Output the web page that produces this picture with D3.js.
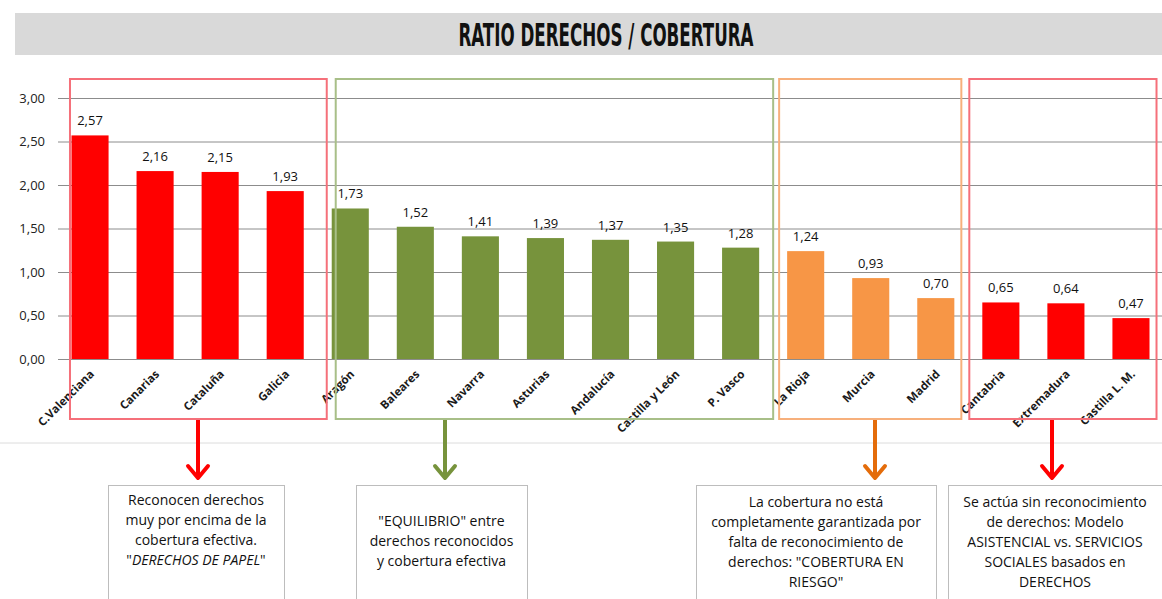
<!DOCTYPE html>
<meta charset="utf-8">
<head>
    <title>Ratio derechos / cobertura</title>
    <style>
        body { margin: 0; background: #fff; }
        svg text { font-family: "Open Sans", "Noto Sans", sans-serif; }
    </style>
</head>
<body>
    <script src="https://cdn.jsdelivr.net/npm/d3@7/dist/d3.min.js"></script>
    <svg id="chart"></svg>
    <script>
        // data
        var categories = ["C.Valenciana", "Canarias", "Cataluña", "Galicia", "Aragón", "Baleares", "Navarra",
            "Asturias", "Andalucía", "Castilla y León", "P. Vasco", "La Rioja", "Murcia", "Madrid",
            "Cantabria", "Extremadura", "Castilla L. M."];
        var values = [2.57, 2.16, 2.15, 1.93, 1.73, 1.52, 1.41, 1.39, 1.37, 1.35, 1.28, 1.24, 0.93, 0.70, 0.65, 0.64, 0.47];
        var yTicks = [0, 0.5, 1, 1.5, 2, 2.5, 3];

        // groups of regions
        var groupFirst = [0, 4, 11, 14];
        var groupLast = [3, 10, 13, 16];
        var barColors = ["#ff0000", "#77933c", "#f79646", "#ff0000"];
        var frameColors = ["#f5707a", "#a8bf88", "#f7b07c", "#f5707a"];
        var arrowColors = ["#ff0000", "#77933c", "#e46c0a", "#ff0000"];
        // text between * * is set in italics
        var noteLines = [
            ["Reconocen derechos", "muy por encima de la", "cobertura efectiva.", "\"*DERECHOS DE PAPEL*\""],
            ["\"EQUILIBRIO\" entre", "derechos reconocidos", "y cobertura efectiva"],
            ["La cobertura no está", "completamente garantizada por", "falta de reconocimiento de", "derechos: \"COBERTURA EN", "RIESGO\""],
            ["Se actúa sin reconocimiento", "de derechos: Modelo", "ASISTENCIAL vs. SERVICIOS", "SOCIALES basados en", "DERECHOS"]
        ];

        // layout
        var W = 1162, H = 599;
        var frameTop = 79, frameBottom = 419;
        var framePad = [[1.5, 23], [-4, 14], [8, 7], [13, 7]];
        var noteBoxes = [[108, 284], [356, 527], [696, 936], [948, 1162]];
        var arrowX = [198, 445, 875, 1052];
        var noteTop = 485;
        var noteFirstLine = [505, 526, 507, 507];

        var svg = d3.select("#chart").attr("width", W).attr("height", H);

        // title
        svg.append("rect").attr("x", 15).attr("y", 13).attr("width", W - 15).attr("height", 42)
            .attr("fill", "#d9d9d9");
        svg.append("text").attr("x", 606).attr("y", 46).attr("text-anchor", "middle")
            .style("font-family", "'Liberation Sans Narrow', 'DejaVu Sans Condensed', sans-serif")
            .style("font-weight", "bold").style("font-size", "32px")
            .attr("textLength", 295).attr("lengthAdjust", "spacingAndGlyphs")
            .attr("fill", "#111").text("RATIO DERECHOS / COBERTURA");

        var x = d3.scaleBand().domain(categories).range([57.5, 1163.5])
            .paddingInner(0.43).paddingOuter(0.215);
        var y = d3.scaleLinear().domain([0, 3]).range([359, 98]);
        var fmt = function(v) { return d3.format(".2f")(v).replace(".", ","); };

        // faint chart border line
        svg.append("line").attr("x1", 0).attr("x2", W).attr("y1", 443).attr("y2", 443)
            .attr("stroke", "#dcdcdc").attr("stroke-width", 1);

        // grid
        var yAxis = d3.axisLeft(y).tickValues(yTicks).tickSize(-(W - 58)).tickFormat(fmt);
        var gy = svg.append("g").attr("transform", "translate(58,0)").call(yAxis);
        gy.select(".domain").remove();
        gy.selectAll(".tick line").attr("stroke", "#8c8c8c").attr("stroke-width", 1);
        gy.selectAll(".tick text").attr("x", -13).attr("fill", "#222")
            .style("font-size", "13px");

        var groupIndex = categories.map(function(c, i) {
            for (var g = 0; g < groupFirst.length; g++) if (i >= groupFirst[g] && i <= groupLast[g]) return g;
            return 0;
        });

        // bars
        svg.append("g").selectAll("rect").data(values).enter().append("rect")
            .attr("x", function(d, i) { return x(categories[i]); })
            .attr("y", function(d) { return y(d); })
            .attr("width", x.bandwidth())
            .attr("height", function(d) { return y(0) - y(d); })
            .attr("fill", function(d, i) { return barColors[groupIndex[i]]; });

        // value labels
        svg.append("g").selectAll("text").data(values).enter().append("text")
            .attr("x", function(d, i) { return x(categories[i]) + x.bandwidth() / 2; })
            .attr("y", function(d) { return y(d) - 10; })
            .attr("text-anchor", "middle").style("font-size", "13px").attr("fill", "#111")
            .text(fmt);

        // category labels
        svg.append("g").selectAll("text").data(categories).enter().append("text")
            .attr("transform", function(d) {
                return "translate(" + (x(d) + x.bandwidth() / 2 + 2) + ",372) rotate(-45)";
            })
            .attr("text-anchor", "end").attr("dy", "0.35em")
            .style("font-size", "11.5px").style("font-weight", "bold").attr("fill", "#1a1a1a")
            .text(function(d) { return d; });

        // group frames
        svg.append("g").selectAll("rect").data(groupFirst).enter().append("rect")
            .attr("x", function(d, g) { return x(categories[d]) - framePad[g][0]; })
            .attr("y", frameTop)
            .attr("width", function(d, g) {
                return x(categories[groupLast[g]]) + x.bandwidth() + framePad[g][1] - (x(categories[d]) - framePad[g][0]);
            })
            .attr("height", frameBottom - frameTop)
            .attr("fill", "none").attr("stroke-width", 2)
            .attr("stroke", function(d, g) { return frameColors[g]; });

        // arrows
        var arrows = svg.append("g").selectAll("g").data(arrowX).enter().append("g");
        arrows.append("line")
            .attr("x1", function(d) { return d; }).attr("x2", function(d) { return d; })
            .attr("y1", frameBottom + 1).attr("y2", 478)
            .attr("stroke", function(d, g) { return arrowColors[g]; }).attr("stroke-width", 4);
        arrows.append("path")
            .attr("d", function(d) { return "M" + (d - 10) + ",466 L" + d + ",478 L" + (d + 10) + ",466"; })
            .attr("fill", "none").attr("stroke-width", 4).attr("stroke-linecap", "round")
            .attr("stroke-linejoin", "round")
            .attr("stroke", function(d, g) { return arrowColors[g]; });

        // note boxes
        var notes = svg.append("g").selectAll("g").data(noteBoxes).enter().append("g");
        notes.append("rect")
            .attr("x", function(d) { return d[0] + 0.5; }).attr("y", noteTop + 0.5)
            .attr("width", function(d) { return d[1] - d[0]; }).attr("height", H - noteTop + 5)
            .attr("fill", "#fff").attr("stroke", "#bdbdbd").attr("stroke-width", 1);
        notes.each(function(d, g) {
            var t = d3.select(this).append("text").attr("text-anchor", "middle")
                .style("font-size", "14px").attr("fill", "#111");
            noteLines[g].forEach(function(line, k) {
                var row = t.append("tspan").attr("x", (d[0] + d[1]) / 2).attr("y", noteFirstLine[g] + k * 20);
                line.split("*").forEach(function(part, j) {
                    if (part === "") return;
                    row.append("tspan").style("font-style", j % 2 ? "italic" : "normal").text(part);
                });
            });
        });
    </script>
</body>
</html>
